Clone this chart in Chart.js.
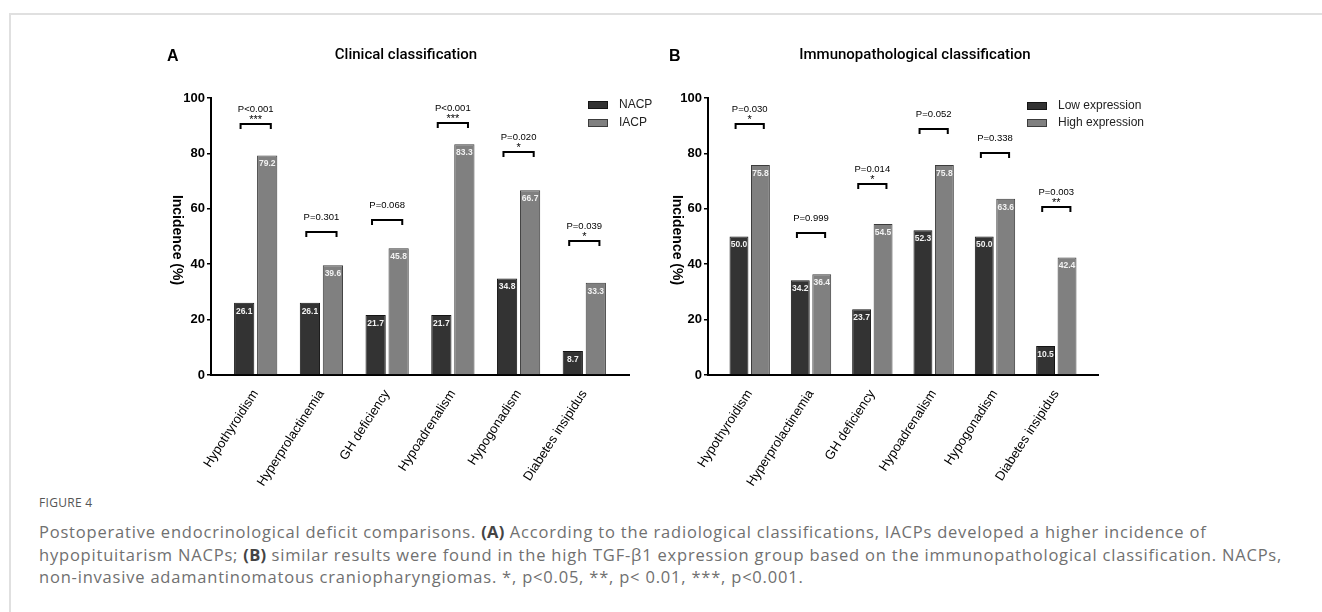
<!DOCTYPE html>
<html>
<head>
<meta charset="utf-8">
<script src="https://cdn.jsdelivr.net/npm/chart.js@4.4.1/dist/chart.umd.min.js"></script>
<style>
  html, body { margin: 0; padding: 0; background: #fff; }
  body { width: 1322px; height: 612px; position: relative; overflow: hidden; }
  .frame { position: absolute; left: 9px; top: 13px; right: 0; bottom: 0; border-top: 2px solid #e0e0e0; border-left: 2px solid #e0e0e0; }
  .cv { position: absolute; }
  #caption { position: absolute; left: 39px; top: 494px; width: 1283px; font-family: "Open Sans", sans-serif; color: #707070; white-space: nowrap; }
  #caption .fig { font-size: 12px; color: #555; line-height: 18px; margin-bottom: 9px; letter-spacing: 0.3px; }
  #caption .txt { font-size: 16.5px; line-height: 22.5px; letter-spacing: 0.8px; }
  #caption b { color: #444; letter-spacing: 0.3px; }
</style>
</head>
<body>
<div class="frame"></div>
<canvas id="chartA" class="cv" width="550" height="460" style="left:140px;top:30px;width:550px;height:460px;"></canvas>
<canvas id="chartB" class="cv" width="565" height="460" style="left:655px;top:30px;width:565px;height:460px;"></canvas>
<div id="caption">
  <div class="fig">FIGURE 4</div>
  <div class="txt">Postoperative endocrinological deficit comparisons. <b>(A)</b> According to the radiological classifications, IACPs developed a higher incidence of<br>hypopituitarism NACPs; <b>(B)</b> similar results were found in the high TGF-β1 expression group based on the immunopathological classification. NACPs,<br>non-invasive adamantinomatous craniopharyngiomas. *, p&lt;0.05, **, p&lt; 0.01, ***, p&lt;0.001.</div>
</div>
<script>
// ---------- data ----------
const categories = ['Hypothyroidism', 'Hyperprolactinemia', 'GH deficiency', 'Hypoadrenalism', 'Hypogonadism', 'Diabetes insipidus'];
const yTicks = [0, 20, 40, 60, 80, 100];

// Panel A: clinical classification
const seriesA1Name = 'NACP';
const seriesA2Name = 'IACP';
const nacp = [26.1, 26.1, 21.7, 21.7, 34.8, 8.7];
const iacp = [79.2, 39.6, 45.8, 83.3, 66.7, 33.3];
const pA = ['P<0.001', 'P=0.301', 'P=0.068', 'P<0.001', 'P=0.020', 'P=0.039'];
const starsA = ['***', '', '', '***', '*', '*'];
const bracketA = [90.6, 51.6, 56.0, 91.0, 80.5, 48.4];

// Panel B: immunopathological classification
const seriesB1Name = 'Low expression';
const seriesB2Name = 'High expression';
const lowExp = [50.0, 34.2, 23.7, 52.3, 50.0, 10.5];
const highExp = [75.8, 36.4, 54.5, 75.8, 63.6, 42.4];
const pB = ['P=0.030', 'P=0.999', 'P=0.014', 'P=0.052', 'P=0.338', 'P=0.003'];
const starsB = ['*', '', '*', '', '', '**'];
const bracketB = [90.6, 51.3, 69.0, 88.8, 80.0, 60.6];

// ---------- styling ----------
const DARK = '#333333', DARK_BORDER = '#151515';
const GRAY = '#808080', GRAY_BORDER = '#3c3c3c';
const FONT = '"Liberation Sans", Arial, sans-serif';

function makePlugin(cfg) {
  return {
    id: 'decor' + cfg.key,
    afterDatasetsDraw(chart) {
      const ctx = chart.ctx;
      const xs = chart.scales.x, ys = chart.scales.y;
      ctx.save();
      // value labels inside bars
      ctx.fillStyle = '#f2f2f2';
      ctx.font = 'bold 8.5px ' + FONT;
      ctx.textAlign = 'center';
      ctx.textBaseline = 'middle';
      chart.data.datasets.forEach((ds, di) => {
        const meta = chart.getDatasetMeta(di);
        meta.data.forEach((bar, i) => {
          const v = ds.data[i].y;
          ctx.fillText(v.toFixed(1), bar.x, bar.y + 8.5);
        });
      });
      // significance brackets
      ctx.strokeStyle = '#000';
      ctx.lineWidth = 2;
      ctx.fillStyle = '#000';
      cfg.brackets.forEach((b, i) => {
        const x1 = xs.getPixelForValue(i - 0.23);
        const x2 = xs.getPixelForValue(i + 0.23);
        const y = Math.round(ys.getPixelForValue(b));
        ctx.beginPath();
        ctx.moveTo(x1, y + 5);
        ctx.lineTo(x1, y);
        ctx.lineTo(x2, y);
        ctx.lineTo(x2, y + 5);
        ctx.stroke();
        const cx = (x1 + x2) / 2;
        ctx.textBaseline = 'alphabetic';
        ctx.font = '9.5px ' + FONT;
        ctx.fillText(cfg.p[i], cx, y - 12);
        if (cfg.stars[i]) {
          ctx.font = '11px ' + FONT;
          ctx.fillText(cfg.stars[i], cx, y - 1);
        }
      });
      ctx.restore();
    },
    afterDraw(chart) {
      const ctx = chart.ctx;
      ctx.save();
      ctx.fillStyle = '#000';
      // panel letter
      ctx.font = 'bold 16px ' + FONT;
      ctx.textAlign = 'left';
      ctx.textBaseline = 'middle';
      ctx.fillText(cfg.letter, cfg.letterX, 27);
      // panel title
      ctx.font = '500 15px Roboto, ' + FONT;
      ctx.textAlign = 'center';
      ctx.fillText(cfg.title, cfg.titleX, 25);
      // y-axis title (reads top to bottom)
      ctx.save();
      ctx.translate(cfg.yTitleX, 210);
      ctx.rotate(Math.PI / 2);
      ctx.font = 'bold 14px ' + FONT;
      ctx.textAlign = 'center';
      ctx.textBaseline = 'middle';
      ctx.fillText('Incidence (%)', 0, 0);
      ctx.restore();
      // legend
      ctx.font = '12px ' + FONT;
      ctx.textAlign = 'left';
      ctx.textBaseline = 'middle';
      chart.data.datasets.forEach((ds, di) => {
        const y = cfg.legendY[di];
        ctx.fillStyle = ds.backgroundColor;
        ctx.fillRect(cfg.legendX, y - 3.5, 20, 7);
        ctx.strokeStyle = ds.borderColor;
        ctx.lineWidth = 1;
        ctx.strokeRect(cfg.legendX + 0.5, y - 3.5, 19, 7);
        ctx.fillStyle = '#222';
        ctx.fillText(ds.label, cfg.legendX + 31, y);
      });
      ctx.restore();
    }
  };
}

function makeChart(id, cfg) {
  const data = {
    datasets: [
      { label: cfg.names[0], data: cfg.s1.map((v, i) => ({ x: i, y: v })), backgroundColor: DARK, borderColor: DARK_BORDER, borderWidth: 1 },
      { label: cfg.names[1], data: cfg.s2.map((v, i) => ({ x: i, y: v })), backgroundColor: GRAY, borderColor: GRAY_BORDER, borderWidth: 1 }
    ]
  };
  return new Chart(document.getElementById(id), {
    type: 'bar',
    data,
    options: {
      responsive: false,
      animation: false,
      devicePixelRatio: 1,
      layout: { padding: { left: 0, top: 68, right: cfg.padRight, bottom: 0 } },
      datasets: { bar: { barPercentage: 0.88, categoryPercentage: 0.70 } },
      plugins: { legend: { display: false }, tooltip: { enabled: false } },
      scales: {
        x: {
          type: 'linear',
          min: -0.68, max: 5.68,
          offset: false,
          grid: { display: false },
          border: { display: true, color: '#000', width: 2 },
          ticks: {
            stepSize: 1,
            includeBounds: false,
            autoSkip: false,
            minRotation: 57, maxRotation: 57,
            padding: 4,
            color: '#000',
            font: { family: FONT, size: 13 },
            callback: (v) => (Number.isInteger(v) && v >= 0 && v < categories.length) ? categories[v] : ''
          },
          afterFit: (s) => { s.height = 115; }
        },
        y: {
          min: 0, max: 100,
          afterBuildTicks: (s) => { s.ticks = yTicks.map(v => ({ value: v })); },
          grid: { display: true, drawOnChartArea: false, drawTicks: true, tickLength: 4, color: '#000', lineWidth: 1.5 },
          border: { display: true, color: '#000', width: 2 },
          ticks: { padding: 2, color: '#000', font: { family: FONT, size: 13, weight: 'bold' } },
          afterFit: (s) => { s.width = cfg.yWidth; }
        }
      }
    },
    plugins: [makePlugin(cfg)]
  });
}

makeChart('chartA', {
  key: 'A', letter: 'A', letterX: 27, title: 'Clinical classification', titleX: 266, yTitleX: 37,
  names: [seriesA1Name, seriesA2Name], s1: nacp, s2: iacp,
  p: pA, stars: starsA, brackets: bracketA,
  legendX: 448, legendY: [75, 93],
  yWidth: 71, padRight: 61
});
makeChart('chartB', {
  key: 'B', letter: 'B', letterX: 14, title: 'Immunopathological classification', titleX: 260, yTitleX: 22,
  names: [seriesB1Name, seriesB2Name], s1: lowExp, s2: highExp,
  p: pB, stars: starsB, brackets: bracketB,
  legendX: 372, legendY: [76, 93],
  yWidth: 53, padRight: 122
});
</script>
</body>
</html>
